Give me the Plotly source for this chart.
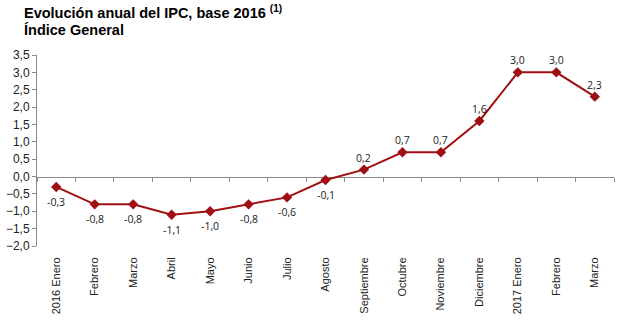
import plotly.graph_objects as go

categories = ["2016 Enero", "Febrero", "Marzo", "Abril", "Mayo", "Junio", "Julio",
              "Agosto", "Septiembre", "Octubre", "Noviembre", "Diciembre",
              "2017 Enero", "Febrero ", "Marzo "]
values = [-0.3, -0.8, -0.8, -1.1, -1.0, -0.8, -0.6, -0.1, 0.2, 0.7, 0.7, 1.6, 3.0, 3.0, 2.3]
tick_labels = ["2016 Enero", "Febrero", "Marzo", "Abril", "Mayo", "Junio", "Julio",
               "Agosto", "Septiembre", "Octubre", "Noviembre", "Diciembre",
               "2017 Enero", "Febrero", "Marzo"]

RED = "#A00F14"
AXIS = "#8C8C8C"
YMIN, YMAX = -2.0, 3.5

W, H = 620, 324
ML, MR, MT, MB = 33, 6, 55, 78
PW, PH = W - ML - MR, H - MT - MB

fig = go.Figure()

# helper trace to register categories on the zero-line axis
fig.add_trace(go.Scatter(
    x=categories, y=values, xaxis="x2", yaxis="y",
    mode="markers", marker=dict(opacity=0), hoverinfo="skip", showlegend=False,
))

fig.add_trace(go.Scatter(
    x=categories, y=values, xaxis="x", yaxis="y",
    mode="lines+markers",
    line=dict(color=RED, width=2),
    marker=dict(symbol="diamond", size=8, color=RED),
    showlegend=False,
))

# data labels
for c, v in zip(categories, values):
    fig.add_annotation(
        x=c, y=v, xref="x", yref="y",
        text=f"{v:.1f}".replace(".", ","),
        showarrow=False,
        yshift=-15 if v < 0 else 12,
        font=dict(family="Open Sans", size=10.5, color="#222222"),
    )

fig.add_annotation(
    text="<b>Evolución anual del IPC, base 2016 <sup>(1)</sup></b>",
    font=dict(family="Liberation Sans", size=14.5, color="#000000"),
    xref="paper", yref="paper",
    x=(18 - ML) / PW, xanchor="left",
    y=1 + (MT - 1) / PH, yanchor="top",
    align="left", showarrow=False,
)
fig.add_annotation(
    text="<b>Índice General</b>",
    font=dict(family="Liberation Sans", size=14.5, color="#000000"),
    xref="paper", yref="paper",
    x=(18 - ML) / PW, xanchor="left",
    y=1 + (MT - 20) / PH, yanchor="top",
    align="left", showarrow=False,
)

fig.update_layout(
    width=W, height=H,
    margin=dict(l=ML, r=MR, t=MT, b=MB),
    paper_bgcolor="white", plot_bgcolor="white",
    separators=",.",
    xaxis=dict(
        type="category",
        categoryorder="array", categoryarray=categories,
        tickvals=categories, ticktext=tick_labels,
        range=[-0.5, len(categories) - 0.5],
        tickangle=-90,
        showline=False, showgrid=False, zeroline=False,
        ticks="outside", ticklen=6, tickcolor="rgba(0,0,0,0)",
        tickfont=dict(family="Liberation Sans", size=11, color="#222222"),
    ),
    xaxis2=dict(
        type="category",
        categoryorder="array", categoryarray=categories,
        range=[-0.5, len(categories) - 0.5],
        overlaying="x", anchor="free",
        position=(0 - YMIN) / (YMAX - YMIN),
        showline=True, linecolor=AXIS, linewidth=1,
        ticks="outside", ticklen=4, tickcolor=AXIS, tickson="boundaries",
        showticklabels=False, showgrid=False, zeroline=False,
        layer="below traces",
    ),
    yaxis=dict(
        range=[YMIN, YMAX], dtick=0.5, tick0=0,
        tickformat=".1f",
        showline=True, linecolor=AXIS, linewidth=1,
        ticks="outside", ticklen=4, tickcolor=AXIS,
        showgrid=False, zeroline=False,
        tickfont=dict(family="Liberation Sans", size=12, color="#222222"),
    ),
)

fig.write_html("out.html")
